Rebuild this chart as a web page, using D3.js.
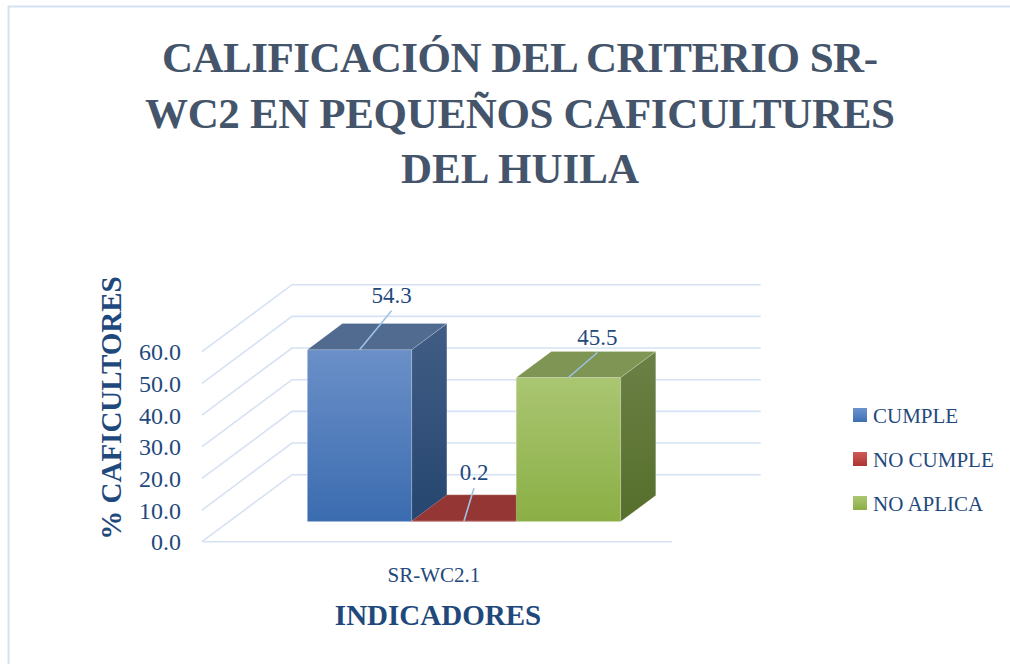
<!DOCTYPE html>
<html>
<head>
<meta charset="utf-8">
<script src="https://cdn.jsdelivr.net/npm/d3@7"></script>
<style>
  body { margin:0; background:#fff; }
  svg { display:block; font-family:"Liberation Serif", "DejaVu Serif", serif; }
</style>
</head>
<body>
<svg id="chart" width="1010" height="664"></svg>
<script>
// data
const titleLines = ["CALIFICACIÓN DEL CRITERIO SR-", "WC2 EN PEQUEÑOS CAFICULTURES", "DEL HUILA"];
const categories = ["SR-WC2.1"];
const seriesNames = ["CUMPLE", "NO CUMPLE", "NO APLICA"];
const seriesValues = [54.3, 0.2, 45.5];
const yTicks = [0, 10, 20, 30, 40, 50, 60];

// colours per series: front gradient, side gradient, top
const palette = [
  { front:["#6b90c8","#3b6cb0"], side:["#415d86","#26466f"], top:"#506a90", key:["#6b93cf","#3f6fb2"] },
  { front:["#c0504d","#a5322f"], side:["#7a2a28","#6a2220"], top:"#943634", key:["#cf5b58","#ab3431"] },
  { front:["#aac672","#8baf45"], side:["#6b8046","#566f2b"], top:"#7f9553", key:["#abc772","#8cae45"] }
];

const svg = d3.select("#chart");
const defs = svg.append("defs");
function grad(id, c){
  const g = defs.append("linearGradient").attr("id",id).attr("x1",0).attr("y1",0).attr("x2",0).attr("y2",1);
  g.append("stop").attr("offset","0%").attr("stop-color",c[0]);
  g.append("stop").attr("offset","100%").attr("stop-color",c[1]);
}
palette.forEach((p,i)=>{ grad("front"+i,p.front); grad("side"+i,p.side); grad("key"+i,p.key); });

// frame
svg.append("path").attr("d","M8.5,664 L8.5,6.5 L1010,6.5").attr("fill","none").attr("stroke","#d5e1f1").attr("stroke-width",2);

// title
svg.append("g").selectAll("text").data(titleLines).enter().append("text")
  .attr("x",520).attr("y",(d,i)=>72+i*55.5)
  .attr("text-anchor","middle")
  .attr("font-size",43).attr("font-weight","bold").attr("fill","#44546a")
  .attr("textLength",(d,i)=>[716,750,238][i]).attr("lengthAdjust","spacing")
  .text(d=>d);

// scales (front plane)
const y = d3.scaleLinear().domain([0,60]).range([541.7,351.7]);
const x0 = d3.scaleBand().domain(categories).range([202,672]).padding(0.2);
const x1 = d3.scaleBand().domain(seriesNames).range([0,x0.bandwidth()]);
const depth = {dx:90, dy:-67};     // back wall offset
const barT0 = 0.3, barT1 = 0.69;   // bar position inside depth

// grid: diagonal on side wall + horizontal on back wall
const grid = svg.append("g").attr("stroke","#d6e2f3").attr("stroke-width",1.6).attr("fill","none");
yTicks.forEach(t=>{
  const yy = y(t);
  grid.append("path").attr("d",`M202,${yy} L${202+depth.dx},${yy+depth.dy} L760.7,${yy+depth.dy}`);
});
grid.append("line").attr("x1",202).attr("x2",672).attr("y1",y(0)).attr("y2",y(0));

// tick labels
svg.append("g").selectAll("text").data(yTicks).enter().append("text")
  .attr("x",181).attr("y",d=>y(d)).attr("dy","0.36em")
  .attr("text-anchor","end").attr("font-size",24).attr("fill","#1f497d")
  .text(d=>d3.format(".1f")(d));

// bars
const ox = depth.dx*barT0, oy = depth.dy*barT0;
const bx = depth.dx*(barT1-barT0), by = depth.dy*(barT1-barT0);
const bars = svg.append("g");
seriesValues.forEach((v,i)=>{
  const xl = x0(categories[0]) + x1(seriesNames[i]) + ox;
  const xr = xl + x1.bandwidth();
  const yt = y(v) + oy, yb = y(0) + oy;
  const g = bars.append("g").attr("stroke","rgba(255,255,255,0.25)").attr("stroke-width",0.8);
  g.append("rect").attr("x",xl).attr("y",yt).attr("width",xr-xl).attr("height",Math.max(yb-yt,0.8))
    .attr("fill",`url(#front${i})`);
  g.append("path").attr("d",`M${xr},${yt} L${xr+bx},${yt+by} L${xr+bx},${yb+by} L${xr},${yb} Z`)
    .attr("fill",`url(#side${i})`);
  g.append("path").attr("d",`M${xl},${yt} L${xr},${yt} L${xr+bx},${yt+by} L${xl+bx},${yt+by} Z`)
    .attr("fill",palette[i].top);
});

// data labels with leader lines (offsets as placed in the original)
const labelOffsets = [[32,-39],[10,-33],[29,-25]];
const labels = svg.append("g");
seriesValues.forEach((v,i)=>{
  const cx = x0(categories[0]) + x1(seriesNames[i]) + ox + x1.bandwidth()/2;
  const cy = y(v) + oy;
  const lx = cx + labelOffsets[i][0], ly = cy + labelOffsets[i][1];
  labels.append("line").attr("x1",cx).attr("y1",cy).attr("x2",lx).attr("y2",ly)
    .attr("stroke","#9dc3e6").attr("stroke-width",1.6);
  labels.append("text").attr("x",lx).attr("y",ly-16).attr("dy","0.36em")
    .attr("text-anchor","middle").attr("font-size",23).attr("fill","#1f497d")
    .text(d3.format(".1f")(v));
});

// category label
svg.append("text").attr("x",x0(categories[0])+x0.bandwidth()/2-3).attr("y",582)
  .attr("text-anchor","middle").attr("font-size",21).attr("fill","#1f497d").text(categories[0]);

// axis titles
svg.append("text").attr("x",438).attr("y",625).attr("text-anchor","middle")
  .attr("font-size",29).attr("font-weight","bold").attr("fill","#1f497d").text("INDICADORES");
svg.append("text").attr("transform","translate(121,408) rotate(-90)").attr("text-anchor","middle")
  .attr("font-size",29).attr("font-weight","bold").attr("fill","#1f497d").text("% CAFICULTORES");

// legend
const legend = svg.append("g").selectAll("g").data(seriesNames).enter().append("g")
  .attr("transform",(d,i)=>`translate(853,${415+i*44})`);
legend.append("rect").attr("x",0).attr("y",-7).attr("width",14).attr("height",14)
  .attr("fill",(d,i)=>`url(#key${i})`);
legend.append("text").attr("x",20).attr("dy","0.36em").attr("font-size",21).attr("fill","#1f497d").text(d=>d);
</script>
</body>
</html>
